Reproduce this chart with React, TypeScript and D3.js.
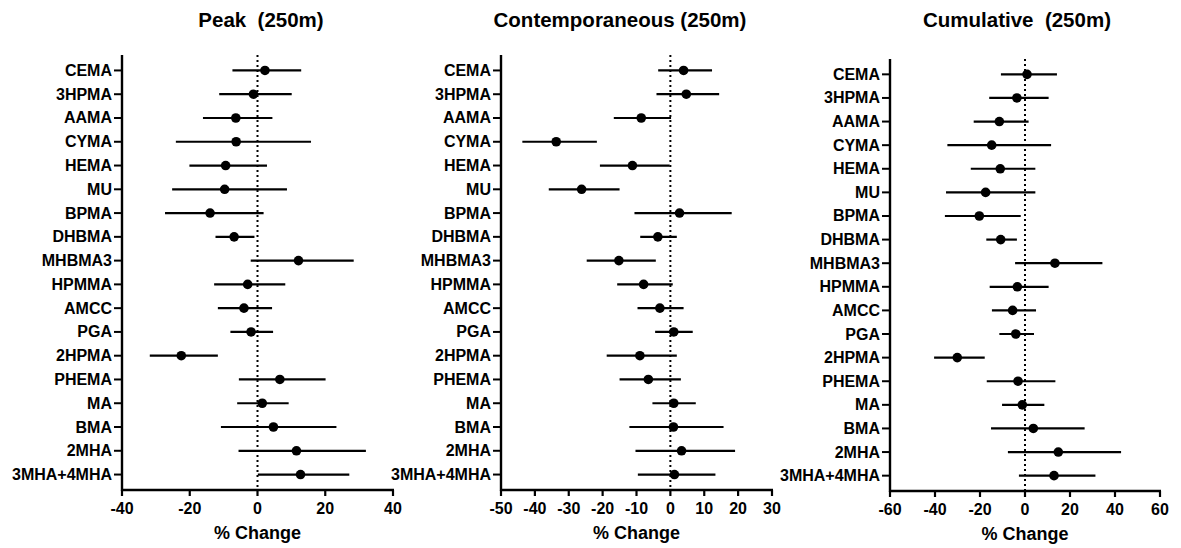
import React from 'react';
import * as d3 from 'd3';

const categories = [
  'CEMA', '3HPMA', 'AAMA', 'CYMA', 'HEMA', 'MU', 'BPMA', 'DHBMA', 'MHBMA3',
  'HPMMA', 'AMCC', 'PGA', '2HPMA', 'PHEMA', 'MA', 'BMA', '2MHA', '3MHA+4MHA',
];

// Peak (250m)
const peakMean = [2.2, -1.2, -6.4, -6.3, -9.4, -9.7, -14.0, -6.9, 12.1, -2.9, -4.0, -1.9, -22.5, 6.6, 1.4, 4.7, 11.5, 12.7];
const peakLow = [-7.4, -11.3, -16.1, -24.1, -20.1, -25.2, -27.3, -12.4, -2.0, -12.8, -11.7, -8.0, -31.8, -5.5, -6.0, -10.8, -5.6, 0.1];
const peakHigh = [12.9, 10.1, 4.4, 15.8, 2.8, 8.7, 1.8, -0.9, 28.4, 8.2, 4.3, 4.6, -11.7, 20.1, 9.2, 23.3, 32.0, 27.1];

// Contemporaneous (250m)
const contMean = [3.9, 4.7, -8.6, -33.7, -11.2, -26.2, 2.7, -3.7, -15.2, -7.9, -3.1, 1.0, -9.0, -6.5, 1.0, 0.9, 3.3, 1.2];
const contLow = [-3.6, -4.1, -16.7, -43.7, -20.8, -35.9, -10.6, -8.9, -24.7, -15.7, -9.7, -4.5, -18.8, -15.0, -5.3, -12.1, -10.3, -9.6];
const contHigh = [12.3, 14.4, 0.2, -21.7, -0.2, -15.0, 18.1, 1.9, -4.3, 0.7, 3.9, 6.6, 1.9, 3.1, 7.5, 15.7, 19.1, 13.3];

// Cumulative (250m)
const cumMean = [0.9, -3.6, -11.4, -14.8, -11.0, -17.5, -20.3, -10.8, 13.3, -3.4, -5.5, -4.1, -30.1, -3.1, -1.2, 3.7, 14.8, 12.9];
const cumLow = [-10.7, -15.9, -22.8, -34.5, -24.1, -35.1, -35.6, -17.2, -4.4, -15.7, -14.7, -11.4, -40.4, -17.0, -10.2, -15.1, -7.6, -2.7];
const cumHigh = [14.2, 10.5, 1.6, 11.6, 4.6, 4.6, -1.9, -3.6, 34.4, 10.5, 4.9, 4.0, -17.9, 13.5, 8.6, 26.5, 42.7, 31.3];

const peakTicks = [-40, -20, 0, 20, 40];
const contTicks = [-50, -40, -30, -20, -10, 0, 10, 20, 30];
const cumTicks = [-60, -40, -20, 0, 20, 40, 60];

const font = '"Liberation Sans", Arial, sans-serif';

type PanelProps = {
  title: string;
  titleX: number;
  mean: number[];
  low: number[];
  high: number[];
  ticks: number[];
  left: number;
  right: number;
  top: number;
  bottom: number;
};

function Panel({title, titleX, mean, low, high, ticks, left, right, top, bottom}: PanelProps) {
  const x = d3
    .scaleLinear()
    .domain([ticks[0], ticks[ticks.length - 1]])
    .range([left, right]);
  const y = d3.scalePoint<string>().domain(categories).range([top, bottom]).padding(0.65);

  return (
    <g fontFamily={font} fontWeight="bold" fill="#000">
      <text x={titleX} y={27} fontSize={20.5} textAnchor="middle" style={{whiteSpace: 'pre'}}>
        {title}
      </text>

      {/* zero reference line */}
      <line
        x1={x(0)}
        x2={x(0)}
        y1={top}
        y2={bottom}
        stroke="#000"
        strokeWidth={2}
        strokeDasharray="2 3"
      />

      {categories.map((c, i) => (
        <g key={c}>
          <line x1={x(low[i])} x2={x(high[i])} y1={y(c)} y2={y(c)} stroke="#000" strokeWidth={2.2} />
          <circle cx={x(mean[i])} cy={y(c)} r={4.8} fill="#000" />
          <line x1={left - 8} x2={left} y1={y(c)} y2={y(c)} stroke="#000" strokeWidth={2} />
          <text x={left - 10} y={y(c)} fontSize={16} textAnchor="end" dominantBaseline="central">
            {c}
          </text>
        </g>
      ))}

      {/* axes */}
      <line x1={left} x2={left} y1={top} y2={bottom + 1} stroke="#000" strokeWidth={2.4} />
      <line x1={left - 1} x2={right + 1} y1={bottom} y2={bottom} stroke="#000" strokeWidth={2.4} />
      {ticks.map(t => (
        <g key={t}>
          <line x1={x(t)} x2={x(t)} y1={bottom} y2={bottom + 6} stroke="#000" strokeWidth={2.2} />
          <text x={x(t)} y={bottom + 24} fontSize={16} textAnchor="middle">
            {t}
          </text>
        </g>
      ))}
      <text x={(left + right) / 2} y={bottom + 49} fontSize={18} textAnchor="middle">
        % Change
      </text>
    </g>
  );
}

export default function App() {
  return (
    <div style={{position: 'absolute', left: 0, top: 0}}>
      <svg width={1181} height={548} style={{display: 'block', background: '#fff'}}>
        <Panel
          title="Peak  (250m)"
          titleX={261}
          mean={peakMean}
          low={peakLow}
          high={peakHigh}
          ticks={peakTicks}
          left={122}
          right={393}
          top={55}
          bottom={490}
        />
        <Panel
          title="Contemporaneous (250m)"
          titleX={620}
          mean={contMean}
          low={contLow}
          high={contHigh}
          ticks={contTicks}
          left={501}
          right={772}
          top={55}
          bottom={490}
        />
        <Panel
          title="Cumulative  (250m)"
          titleX={1017}
          mean={cumMean}
          low={cumLow}
          high={cumHigh}
          ticks={cumTicks}
          left={890}
          right={1160}
          top={59}
          bottom={491}
        />
      </svg>
    </div>
  );
}
